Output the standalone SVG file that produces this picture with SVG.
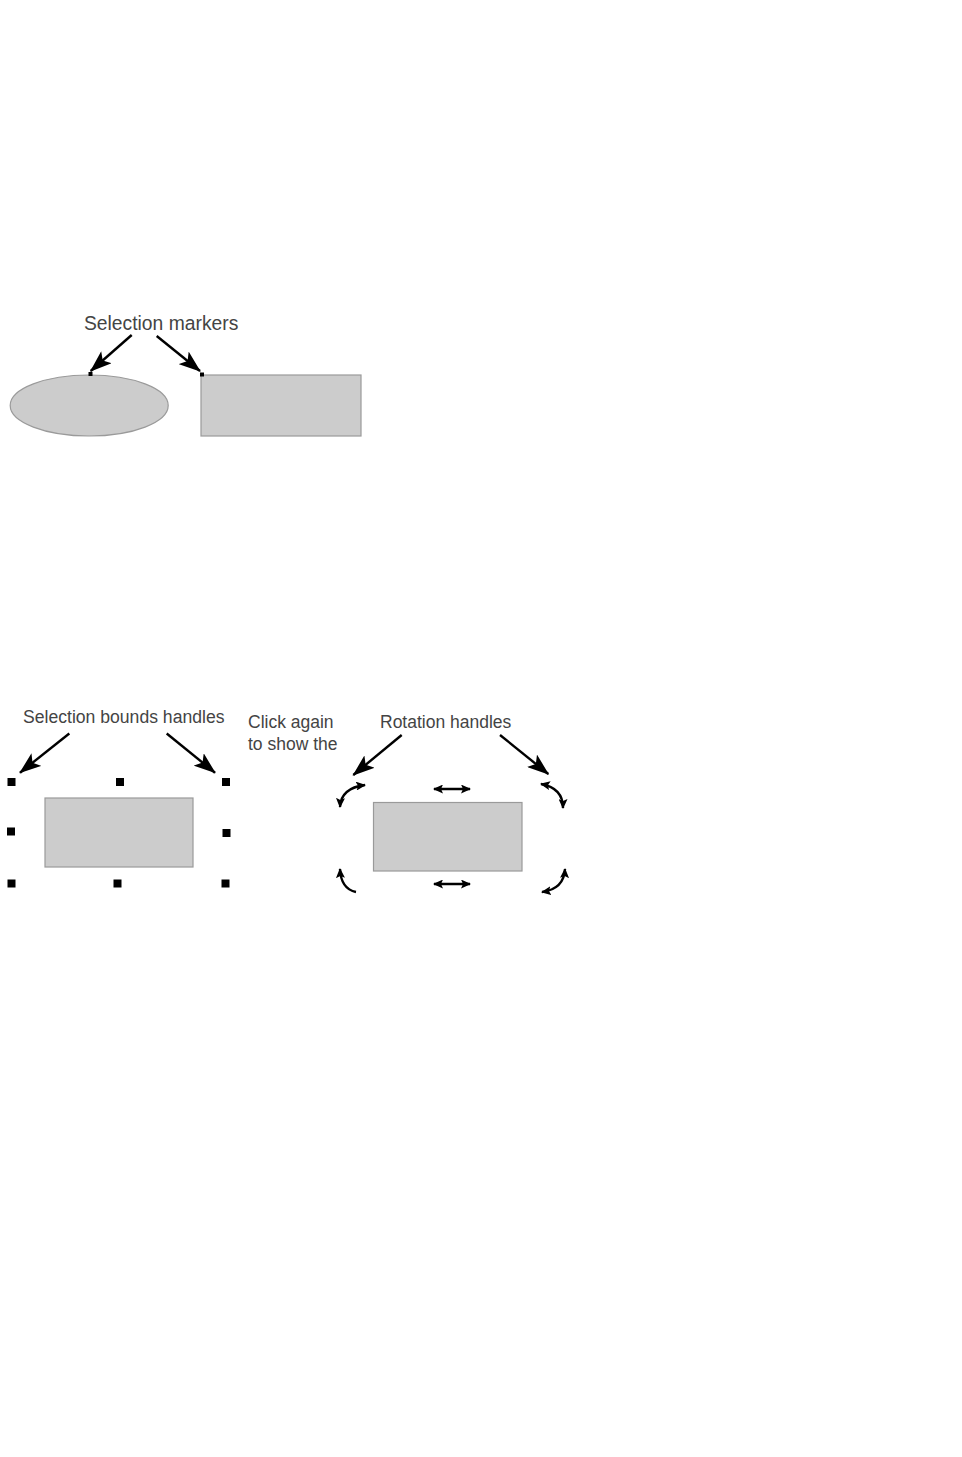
<svg xmlns="http://www.w3.org/2000/svg" width="962" height="1457" viewBox="0 0 962 1457">
<style>
.lbl{font-family:"Liberation Sans",Arial,sans-serif;fill:#444444}
.shape{fill:#cccccc;stroke:#9a9a9a;stroke-width:1.2}
.call{stroke:#000;stroke-width:2.4;fill:none;marker-end:url(#bigHead)}
.h{fill:#000}
.rot{stroke:#000;stroke-width:2.4;fill:none}
</style>
<defs>
<marker id="bigHead" viewBox="0 0 22 16" refX="21" refY="8" markerWidth="22" markerHeight="16" markerUnits="userSpaceOnUse" orient="auto">
<path d="M0,0 L22,8 L0,16 L5,8 z" fill="#000"/>
</marker>
<marker id="smHead" viewBox="0 0 10 9" refX="9" refY="4.5" markerWidth="10" markerHeight="9" markerUnits="userSpaceOnUse" orient="auto-start-reverse">
<path d="M0,0 L10,4.5 L0,9 L2,4.5 z" fill="#000"/>
</marker>
</defs>
<rect width="962" height="1457" fill="#fff"/>

<g id="selection-markers-label"><text class="lbl" x="84" y="330" font-size="19.3">Selection markers</text></g>
<g id="ellipse"><ellipse class="shape" cx="89.2" cy="405.5" rx="79" ry="30.5"/><rect class="h" x="88.5" y="372" width="4" height="4"/></g>
<g id="rect1"><rect class="shape" x="201" y="375" width="160" height="61"/><rect class="h" x="200" y="372.5" width="4" height="4"/></g>

<g id="bounds-label"><text class="lbl" x="23" y="722.5" font-size="17.6">Selection bounds handles</text></g>
<g id="bounds-rect">
<rect class="shape" x="45" y="798" width="148" height="69"/>
<rect class="h" x="7.5" y="778" width="8" height="8"/>
<rect class="h" x="116" y="778" width="8" height="8"/>
<rect class="h" x="222" y="778" width="8" height="8"/>
<rect class="h" x="7" y="827.5" width="8" height="8"/>
<rect class="h" x="222.5" y="829" width="8" height="8"/>
<rect class="h" x="7.5" y="879.5" width="8" height="8"/>
<rect class="h" x="113.5" y="879.5" width="8" height="8"/>
<rect class="h" x="221.5" y="879.5" width="8" height="8"/>
</g>

<g id="click-again"><text class="lbl" x="248" y="728" font-size="17.5">Click again</text><text class="lbl" x="248" y="749.5" font-size="17.5">to show the</text></g>
<g id="rotation-label"><text class="lbl" x="380" y="728" font-size="17.5">Rotation handles</text></g>
<g id="rotation-rect">
<rect class="shape" x="373.5" y="802.5" width="148.5" height="68.5"/>
<path class="rot" d="M434,789 L470,789" marker-start="url(#smHead)" marker-end="url(#smHead)"/>
<path class="rot" d="M434,884 L470,884" marker-start="url(#smHead)" marker-end="url(#smHead)"/>
<path class="rot" d="M340,807 Q341,788 365,785" marker-start="url(#smHead)" marker-end="url(#smHead)"/>
<path class="rot" d="M541,784 Q563,788 563,808" marker-start="url(#smHead)" marker-end="url(#smHead)"/>
<path class="rot" d="M340,869 Q341,889 356,892" marker-start="url(#smHead)"/>
<path class="rot" d="M565,869 Q564,889 542,892" marker-start="url(#smHead)" marker-end="url(#smHead)"/>
</g>

<g id="connectors">
<line class="call" x1="131.7" y1="335" x2="90.7" y2="371"/>
<line class="call" x1="156.7" y1="336" x2="200" y2="371"/>
<line class="call" x1="69.3" y1="733.5" x2="20" y2="772.7"/>
<line class="call" x1="166.7" y1="733.5" x2="215" y2="772.7"/>
<line class="call" x1="401.7" y1="735" x2="353.3" y2="775"/>
<line class="call" x1="500" y1="735" x2="548.3" y2="774"/>
</g>
</svg>
